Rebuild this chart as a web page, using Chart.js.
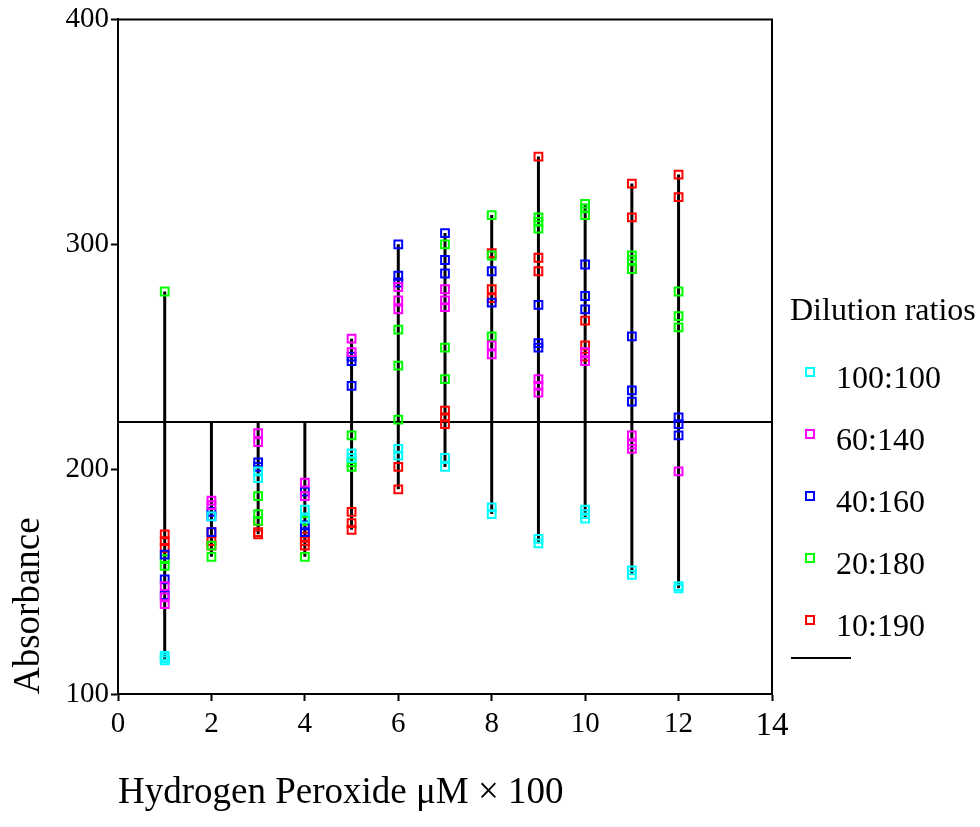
<!DOCTYPE html>
<html>
<head>
<meta charset="utf-8">
<script src="https://cdn.jsdelivr.net/npm/chart.js@4.4.1/dist/chart.umd.min.js"></script>
<style>
    html, body { margin: 0; padding: 0; background: #fff; }
    #wrap { width: 980px; height: 827px; }
</style>
</head>
<body>
<div id="wrap"><canvas id="absChart"></canvas></div>
<script>
// H2O2 dose (x100 uM)
const doses = [1, 2, 3, 4, 5, 6, 7, 8, 9, 10, 11, 12];
const xTicks = [0, 2, 4, 6, 8, 10, 12, 14];
const yTicks = [100, 200, 300, 400];
const baseline = 221;

// replicate readings per dose, one list per dilution ratio
const ratio100_100 = [[115, 116, 117], [179], [199, 196], [182, 178], [207, 205], [209, 206],
    [205, 201], [183, 180], [169, 167], [182, 180, 178], [155, 153], [148, 147]];
const ratio60_140 = [[148, 143, 140], [186, 184], [216, 212], [194, 188], [258, 252], [281, 275, 271],
    [280, 275, 272], [255, 251], [240, 237, 234], [252, 248], [215, 211, 209], [199]];
const ratio40_160 = [[162, 151, 144], [181, 179, 172], [203, 201], [190, 175, 172], [250, 248, 237], [300, 286, 283],
    [305, 293, 287], [288, 274], [273, 256, 254], [291, 277, 271], [259, 235, 230], [223, 220, 215]];
const ratio20_180 = [[279, 160, 157], [161, 166], [188, 180, 177], [177, 161], [215, 203, 201], [262, 246, 222],
    [300, 254, 240], [313, 295, 259], [312, 310, 307], [318, 316, 313], [295, 293, 289], [279, 268, 263]];
const ratio10_190 = [[171, 168, 165], [172, 168, 166], [177, 172, 171], [170, 168, 166], [181, 176, 173], [201, 191],
    [226, 223, 220], [296, 280, 276], [339, 294, 288], [266, 255, 250], [327, 312, 289], [331, 321]];

const seriesNames = ['100:100', '60:140', '40:160', '20:180', '10:190'];
const seriesColors = ['#00ffff', '#ff00ff', '#0000ff', '#00ff00', '#ff0000'];
const allSeries = [ratio100_100, ratio60_140, ratio40_160, ratio20_180, ratio10_190];

const FONT = "'Liberation Serif', 'Times New Roman', serif";

function toPoints(vals) {
    return doses.flatMap((d, i) => vals[i].map(v => ({ x: d, y: v })));
}

// vertical trace at every dose, running from the baseline out to the extremes
const traceData = [];
doses.forEach((d, i) => {
    const all = allSeries.flatMap(s => s[i]);
    traceData.push({ x: d, y: Math.min(...all, baseline) });
    traceData.push({ x: d, y: Math.max(...all, baseline) });
    traceData.push({ x: d, y: null });
});

const scatterSets = allSeries.map((s, k) => ({
    type: 'scatter',
    label: seriesNames[k],
    data: toPoints(s),
    pointStyle: 'rect',
    pointRadius: 5.5,
    pointBorderWidth: 2,
    borderColor: seriesColors[k],
    backgroundColor: 'transparent'
}));

const legendPlugin = {
    id: 'sideLegend',
    afterDraw(chart) {
        const ctx = chart.ctx;
        ctx.save();
        ctx.fillStyle = '#000';
        ctx.textAlign = 'left';
        ctx.textBaseline = 'middle';
        ctx.font = '32px ' + FONT;
        ctx.fillText('Dilution ratios', 790, 312);
        seriesNames.forEach((name, k) => {
            const y = 380 + k * 62;
            ctx.strokeStyle = seriesColors[k];
            ctx.lineWidth = 2;
            ctx.strokeRect(806, y - 12, 8, 8);
            ctx.fillStyle = '#000';
            ctx.fillText(name, 836, y);
        });
        ctx.strokeStyle = '#000';
        ctx.lineWidth = 2;
        ctx.beginPath();
        ctx.moveTo(791, 658);
        ctx.lineTo(851, 658);
        ctx.stroke();

        // top and right frame
        const a = chart.chartArea;
        ctx.lineWidth = 2;
        ctx.beginPath();
        ctx.moveTo(a.left, a.top);
        ctx.lineTo(a.right, a.top);
        ctx.lineTo(a.right, a.bottom);
        ctx.stroke();
        ctx.restore();
    }
};

new Chart(document.getElementById('absChart').getContext('2d'), {
    type: 'scatter',
    data: {
        datasets: [
            ...scatterSets,
            {
                type: 'line',
                label: '',
                data: traceData,
                borderColor: '#000',
                borderWidth: 3,
                pointRadius: 0,
                spanGaps: false,
                fill: false
            },
            {
                type: 'line',
                label: '',
                data: [{ x: 0, y: baseline }, { x: 14, y: baseline }],
                borderColor: '#000',
                borderWidth: 2,
                pointRadius: 0,
                fill: false
            }
        ]
    },
    options: {
        responsive: true,
        maintainAspectRatio: false,
        animation: false,
        layout: {
            padding: { top: 15, right: 208, left: 0, bottom: 0 }
        },
        plugins: {
            legend: { display: false },
            tooltip: { enabled: false }
        },
        scales: {
            x: {
                type: 'linear',
                min: 0,
                max: 14,
                afterBuildTicks: s => { s.ticks = xTicks.map(v => ({ value: v })); },
                afterFit: s => { s.height = 133; },
                grid: { drawOnChartArea: false, drawTicks: true, tickLength: 7, tickColor: '#000', tickWidth: 2 },
                border: { color: '#000', width: 2 },
                ticks: {
                    color: '#000',
                    padding: 6,
                    maxRotation: 0,
                    font: c => ({ family: FONT, size: c.tick && c.tick.value === 14 ? 33 : 29 })
                },
                title: {
                    display: true,
                    text: 'Hydrogen Peroxide \u03bcM \u00d7 100',
                    align: 'start',
                    color: '#000',
                    font: { family: FONT, size: 37 },
                    padding: { top: 0, bottom: 12 }
                }
            },
            y: {
                min: 100,
                max: 400,
                afterBuildTicks: s => { s.ticks = yTicks.map(v => ({ value: v })); },
                afterFit: s => { s.width = 118; },
                grid: { drawOnChartArea: false, drawTicks: true, tickLength: 7, tickColor: '#000', tickWidth: 2 },
                border: { color: '#000', width: 2 },
                ticks: {
                    color: '#000',
                    padding: 2,
                    font: { family: FONT, size: 29 }
                },
                title: {
                    display: true,
                    text: 'Absorbance',
                    align: 'start',
                    color: '#000',
                    font: { family: FONT, size: 37 },
                    padding: { top: 7, bottom: 0 }
                }
            }
        }
    },
    plugins: [legendPlugin]
});
</script>
</body>
</html>
